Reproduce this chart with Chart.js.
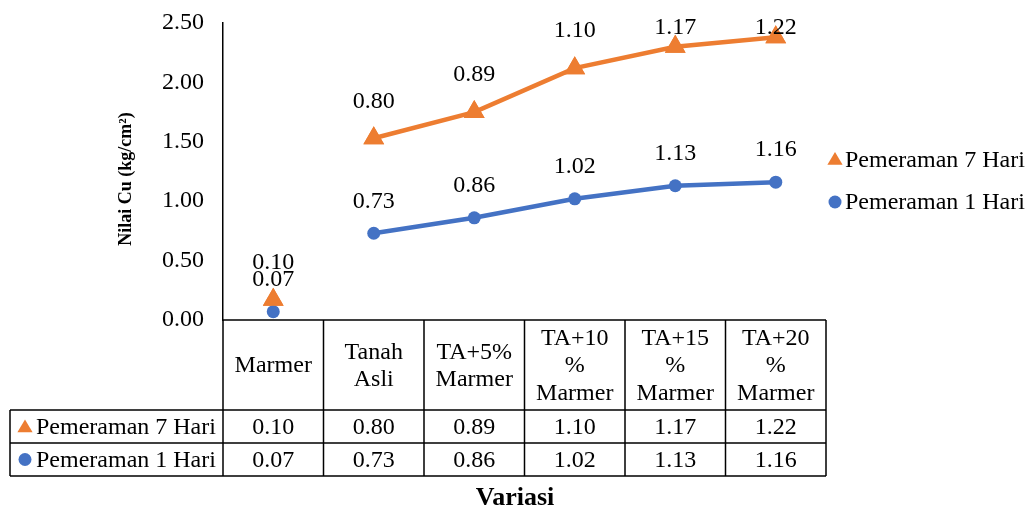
<!DOCTYPE html>
<html>
<head>
<meta charset="utf-8">
<script src="https://cdn.jsdelivr.net/npm/chart.js@4.4.1/dist/chart.umd.min.js"></script>
<style>
  body { margin: 0; background: #fff; }
  #wrap { width: 1033px; height: 512px; }
</style>
</head>
<body>
<div id="wrap"><canvas id="cuChart" width="1033" height="512"></canvas></div>
<script>
const categories = [['Marmer'], ['Tanah', 'Asli'], ['TA+5%', 'Marmer'], ['TA+10', '%', 'Marmer'], ['TA+15', '%', 'Marmer'], ['TA+20', '%', 'Marmer']];
const hari1 = [0.07, 0.73, 0.86, 1.02, 1.13, 1.16];
const hari7 = [0.10, 0.80, 0.89, 1.10, 1.17, 1.22];
const yTicks = [0, 0.5, 1, 1.5, 2, 2.5];

const FONT = '"Liberation Serif", "Times New Roman", serif';
const ORANGE = '#ED7D31';
const BLUE = '#4472C4';

// line from Marmer to Tanah Asli is not drawn
function skipFirst(color) {
    return function (ctx) { return ctx.p0DataIndex === 0 ? 'rgba(0,0,0,0)' : color; };
}

function drawTriangle(ctx, x, y, r, color) {
    ctx.save();
    ctx.fillStyle = color;
    ctx.beginPath();
    ctx.moveTo(x, y - r);
    ctx.lineTo(x + r * 0.95, y + r * 0.6);
    ctx.lineTo(x - r * 0.95, y + r * 0.6);
    ctx.closePath();
    ctx.fill();
    ctx.restore();
}

function drawDot(ctx, x, y, r, color) {
    ctx.save();
    ctx.fillStyle = color;
    ctx.beginPath();
    ctx.arc(x, y, r, 0, Math.PI * 2);
    ctx.fill();
    ctx.restore();
}

const tablePlugin = {
    id: 'tablePlugin',
    afterDatasetsDraw(chart) {
        const ctx = chart.ctx;
        // orange triangles sit on top of the blue dots
        chart.getDatasetMeta(1).data.forEach(pt => pt.draw(ctx));

        // value labels above points, kept inside the top of the plot
        ctx.save();
        ctx.font = '24px ' + FONT;
        ctx.fillStyle = '#000';
        ctx.textAlign = 'center';
        ctx.textBaseline = 'middle';
        chart.data.datasets.forEach((ds, i) => {
            const meta = chart.getDatasetMeta(i);
            const off = i === 1 ? 37 : 32;
            meta.data.forEach((pt, j) => {
                ctx.fillText(ds.raw[j].toFixed(2), pt.x, Math.max(pt.y - off, 28));
            });
        });
        ctx.restore();
    },
    afterDraw(chart) {
        const ctx = chart.ctx;
        const area = chart.chartArea;
        const x = chart.scales.x;
        const n = categories.length;
        const w = (area.right - area.left) / n;
        const top = area.bottom;
        const hdrBottom = 410, row1Bottom = 443, row2Bottom = 476;
        const legLeft = 10;

        ctx.save();
        ctx.strokeStyle = '#000';
        ctx.lineWidth = 1.5;
        ctx.beginPath();
        // horizontal lines
        ctx.moveTo(area.left, top); ctx.lineTo(area.right, top);
        ctx.moveTo(legLeft, hdrBottom); ctx.lineTo(area.right, hdrBottom);
        ctx.moveTo(legLeft, row1Bottom); ctx.lineTo(area.right, row1Bottom);
        ctx.moveTo(legLeft, row2Bottom); ctx.lineTo(area.right, row2Bottom);
        // vertical lines
        for (let i = 0; i <= n; i++) {
            const lx = area.left + i * w;
            ctx.moveTo(lx, top); ctx.lineTo(lx, row2Bottom);
        }
        ctx.moveTo(legLeft, hdrBottom); ctx.lineTo(legLeft, row2Bottom);
        ctx.stroke();

        ctx.font = '24px ' + FONT;
        ctx.fillStyle = '#000';
        ctx.textAlign = 'center';
        ctx.textBaseline = 'middle';
        const hdrMid = (top + hdrBottom) / 2 + 1;
        const lh = 27.5;
        categories.forEach((lines, i) => {
            const cx = x.getPixelForValue(i);
            const y0 = hdrMid - (lines.length - 1) * lh / 2;
            lines.forEach((t, k) => ctx.fillText(t, cx, y0 + k * lh));
            ctx.fillText(hari7[i].toFixed(2), cx, (hdrBottom + row1Bottom) / 2 + 1);
            ctx.fillText(hari1[i].toFixed(2), cx, (row1Bottom + row2Bottom) / 2 + 1);
        });

        // series keys in table
        ctx.textAlign = 'left';
        const r1 = (hdrBottom + row1Bottom) / 2;
        const r2 = (row1Bottom + row2Bottom) / 2;
        drawTriangle(ctx, 25, r1 + 1, 8, ORANGE);
        ctx.fillText('Pemeraman 7 Hari', 36, r1 + 1);
        drawDot(ctx, 25, r2, 6.5, BLUE);
        ctx.fillText('Pemeraman 1 Hari', 36, r2 + 1);

        // legend on the right
        drawTriangle(ctx, 835, 160, 8, ORANGE);
        ctx.fillText('Pemeraman 7 Hari', 845, 161);
        drawDot(ctx, 835, 202, 6.5, BLUE);
        ctx.fillText('Pemeraman 1 Hari', 845, 203);

        // axis titles
        ctx.textAlign = 'center';
        ctx.font = 'bold 26px ' + FONT;
        ctx.fillText('Variasi', 515, 498);

        ctx.translate(126, 179);
        ctx.rotate(-Math.PI / 2);
        ctx.font = 'bold 18px ' + FONT;
        ctx.fillText('Nilai Cu (kg/cm²)', 0, 0);
        ctx.restore();
    }
};

new Chart(document.getElementById('cuChart'), {
    type: 'line',
    data: {
        labels: categories.map(c => c.join(' ')),
        datasets: [
            {
                label: 'Pemeraman 1 Hari',
                data: hari1,
                raw: hari1,
                borderColor: BLUE,
                backgroundColor: BLUE,
                borderWidth: 4.5,
                pointStyle: 'circle',
                pointRadius: 6.5,
                pointBorderWidth: 0,
                segment: { borderColor: skipFirst(BLUE) },
                fill: false
            },
            {
                label: 'Pemeraman 7 Hari',
                data: hari7,
                raw: hari7,
                borderColor: ORANGE,
                backgroundColor: ORANGE,
                borderWidth: 4.5,
                pointStyle: 'triangle',
                pointRadius: 12,
                pointBorderWidth: 0,
                segment: { borderColor: skipFirst(ORANGE) },
                fill: false
            }
        ]
    },
    options: {
        responsive: false,
        animation: false,
        layout: { padding: { top: 23, right: 207, bottom: 184, left: 0 } },
        plugins: {
            legend: { display: false },
            tooltip: { enabled: false }
        },
        scales: {
            x: {
                offset: true,
                grid: { display: false },
                border: { display: false },
                ticks: { display: false }
            },
            y: {
                stacked: true,
                min: 0,
                max: 2.5,
                afterFit: function (scale) {
                    scale.width = 223;
                    scale.paddingTop = 0;
                    scale.paddingBottom = 0;
                },
                afterBuildTicks: function (scale) { scale.ticks = yTicks.map(v => ({ value: v })); },
                grid: { display: false, drawTicks: false },
                border: { display: true, color: '#000', width: 1.5 },
                ticks: {
                    color: '#000',
                    padding: 19,
                    font: { family: FONT, size: 24 },
                    callback: v => v.toFixed(2)
                }
            }
        }
    },
    plugins: [tablePlugin]
});
</script>
</body>
</html>
